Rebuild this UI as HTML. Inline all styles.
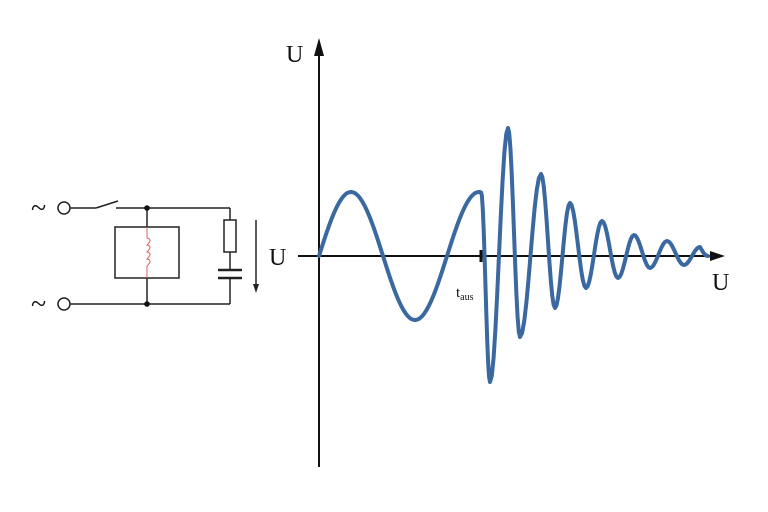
<!DOCTYPE html>
<html><head><meta charset="utf-8"><style>
html,body{margin:0;padding:0;background:#fff;width:768px;height:512px;overflow:hidden}
text{font-family:"Liberation Serif",serif;fill:#111}
</style></head><body>
<svg id="s" width="768" height="512" viewBox="0 0 768 512" xmlns="http://www.w3.org/2000/svg">
<g stroke="#222" stroke-width="1.5" fill="none">
<circle cx="64" cy="208" r="6"/>
<circle cx="64" cy="304" r="6"/>
<line x1="70" y1="208" x2="96" y2="208"/>
<line x1="96" y1="208" x2="118" y2="201"/>
<line x1="116" y1="208" x2="230" y2="208"/>
<line x1="230" y1="208" x2="230" y2="220"/>
<rect x="224" y="220" width="12" height="32"/>
<line x1="230" y1="252" x2="230" y2="270"/>
<line x1="218" y1="270" x2="242" y2="270" stroke-width="2.4"/>
<line x1="218" y1="278" x2="242" y2="278" stroke-width="2.4"/>
<line x1="230" y1="278" x2="230" y2="304"/>
<line x1="70" y1="304" x2="230" y2="304"/>
<line x1="147" y1="208" x2="147" y2="227"/>
<line x1="147" y1="278" x2="147" y2="304"/>
<rect x="115" y="227" width="64" height="51"/>
<line x1="256" y1="220" x2="256" y2="285"/>
</g>
<path d="M147 227 V238 q6 1 0 7 q6 1 0 7 q6 1 0 7 q6 1 0 7 V278" stroke="#e06060" stroke-width="1" fill="none"/>
<polygon points="253,284 259,284 256,293" fill="#222"/>
<circle cx="147" cy="208" r="2.8" fill="#111"/>
<circle cx="147" cy="304" r="2.8" fill="#111"/>
<text x="31" y="217" font-size="28">~</text>
<text x="31" y="313" font-size="28">~</text>
<g stroke="#111" stroke-width="2">
<line x1="319" y1="52" x2="319" y2="467"/>
<line x1="298" y1="256" x2="712" y2="256"/>
<line x1="481" y1="250" x2="481" y2="262" stroke-width="3"/>
</g>
<polygon points="314,56 324,56 319,38" fill="#111"/>
<polygon points="710,251 710,261 725,256" fill="#111"/>
<text x="286" y="62" font-size="24">U</text>
<text x="269" y="265" font-size="24">U</text>
<text x="712" y="290" font-size="24">U</text>
<text x="456" y="297" font-size="15">t<tspan font-size="10" dy="3">aus</tspan></text>
<path id="w" stroke="#3a68a0" stroke-width="4" fill="none" stroke-linejoin="round" stroke-linecap="round"/>
</svg>
<script>
var d="M319 256";
for(var x=320;x<=481;x++){d+=" L"+x+" "+(256-64*Math.sin((x-319)/128*2*Math.PI)).toFixed(1);}
var e=[[481,191],[490,382],[508,128],[520,337],[541,174],[555,308],[570,203],[586,288],[602,221],[618,278],[634,235],[650,268],[667,241],[684,265],[700,247],[708,256]];
for(var i=0;i<e.length-1;i++){var a=e[i],b=e[i+1];
 var last=(i==e.length-2);
 for(var k=1;k<=10;k++){var t=k/10;var x=a[0]+(b[0]-a[0])*t;var f=last?Math.sin(t*Math.PI/2):(1-Math.cos(t*Math.PI))/2;
 var y=a[1]+(b[1]-a[1])*f;d+=" L"+x.toFixed(1)+" "+y.toFixed(1);}}
document.getElementById("w").setAttribute("d",d);
</script>
</body></html>
